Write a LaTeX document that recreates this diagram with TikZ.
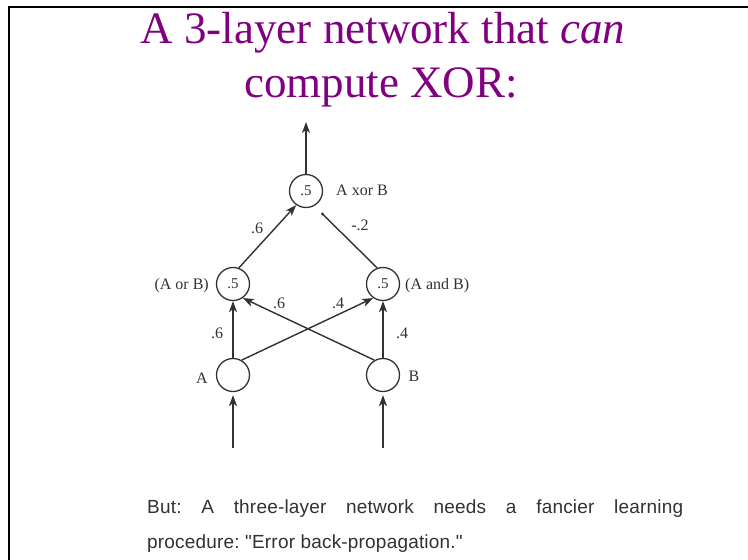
\documentclass[tikz,border=0pt]{standalone}
\usepackage{fontspec}
\setmainfont{Liberation Serif}
\newfontfamily\bodysans{Liberation Sans}[LetterSpace=1]
\usetikzlibrary{arrows.meta,calc}
\definecolor{titlepurple}{RGB}{128,0,128}
\definecolor{ink}{RGB}{50,50,50}
\begin{document}
\frenchspacing
\begin{tikzpicture}[x=1pt,y=-1pt,
  unit/.style={circle,draw=ink,line width=1.3pt,minimum size=33pt,inner sep=0pt,
    font=\fontsize{15}{15}\selectfont,text=ink},
  link/.style={draw=ink,line width=1.4pt,-{Stealth[length=11pt,width=8pt,inset=3pt]}},
  plain/.style={draw=ink,line width=1.4pt},
  lbl/.style={font=\fontsize{16}{16}\selectfont,text=ink,inner sep=0pt},
  titletext/.style={anchor=base,text=titlepurple,font=\fontsize{45}{54}\selectfont,inner sep=0pt},
  bodytext/.style={anchor=base west,text=ink,font=\bodysans\fontsize{19}{22}\selectfont,inner sep=0pt}]
\useasboundingbox (0,0) rectangle (748,560);
\fill[white] (0,0) rectangle (748,560);
\draw[line width=2pt] (9,560) -- (9,7) -- (748,7);

% title
\node[titletext] (t1) at (383,43) {A 3-layer network that \textit{can}};
\node[titletext] (t2) at (381,97) {compute XOR:};

% units
\node[unit] (top) at (306,191) {.5};
\node[unit] (h1) at (233,284) {.5};
\node[unit] (h2) at (383,284) {.5};
\node[unit] (a) at (233,375) {};
\node[unit] (b) at (383,375) {};

\coordinate (outp) at (306,122);
\coordinate (ina) at (233,448);
\coordinate (inb) at (383,448);
\coordinate (dotend) at (322.5,214);

% connectors
\draw[link] (top.north) -- (outp);
\draw[link,shorten >=3pt] (ina) -- (a.south);
\draw[link,shorten >=3pt] (inb) -- (b.south);
\draw[link] (a.north) -- (h1.south);
\draw[link] (b.north) -- (h2.south);
\draw[link] (a.60) -- (h2.235);
\draw[link] (b.120) -- (h1.305);
\draw[link] (h1.70) -- (top.235);
\draw[plain] (h2.110) -- (dotend);
\fill[ink] (dotend) circle (1.7pt);

% labels
\node[lbl,anchor=west] (lxor) at (336,190) {A xor B};
\node[lbl,anchor=east] (lor) at (209,286) {(A or B)};
\node[lbl,anchor=west] (land) at (405,286) {(A and B)};
\node[lbl] (la) at (202,378) {A};
\node[lbl] (lb) at (414,376) {B};
\node[lbl] (w1) at (257,228) {.6};
\node[lbl] (w2) at (360,225) {-.2};
\node[lbl] (w3) at (217,333) {.6};
\node[lbl] (w4) at (402,333) {.4};
\node[lbl] (w5) at (279,303) {.6};
\node[lbl] (w6) at (338,303) {.4};

% bottom text
\node[bodytext] (p1) at (147,513) {\makebox[536pt][s]{But: A three-layer network needs a fancier learning}};
\node[bodytext] (p2) at (147,548) {procedure: "Error back-propagation."};
\end{tikzpicture}
\end{document}
